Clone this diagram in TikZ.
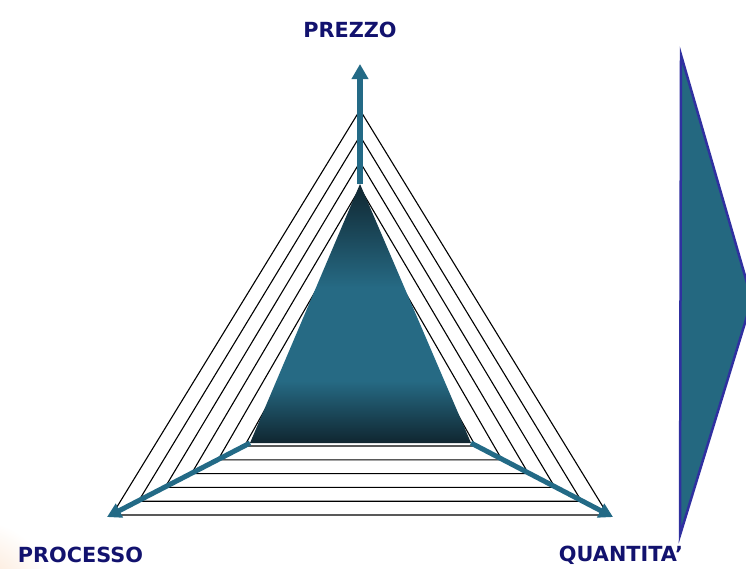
\documentclass[tikz,border=0pt]{standalone}
\usepackage{fontspec}
\setmainfont{DejaVu Sans}
\usetikzlibrary{arrows.meta}
\definecolor{navy}{RGB}{18,18,110}
\definecolor{axiscol}{RGB}{35,106,134}
\definecolor{tealdark}{RGB}{16,38,48}
\definecolor{tealmid}{RGB}{38,106,132}
\definecolor{shapefill}{RGB}{36,104,128}
\definecolor{shapeline}{RGB}{48,48,160}
\definecolor{peach}{RGB}{250,222,198}
\pgfdeclareverticalshading{tealsh}{100bp}{color(0bp)=(tealdark); color(25bp)=(tealdark); color(37bp)=(tealmid); color(55bp)=(tealmid); color(75bp)=(tealdark); color(100bp)=(tealdark)}
\begin{document}
\begin{tikzpicture}[x=1pt,y=-1pt,
  hatch/.style={black,line width=1.1pt,line join=miter},
  axisarrow/.style={axiscol,line width=5pt,-{Triangle[width=15pt,length=14pt]}},
  lbl/.style={font=\bfseries\fontsize{20.8}{24}\selectfont,text=navy,inner sep=0pt}]
\useasboundingbox (0,0) rectangle (746,568);
\clip (0,0) rectangle (746,568);
\fill[white] (0,0) rectangle (746,568);
\shade[inner color=peach,outer color=white] (-25,600) circle (80);
% nested hatch triangles
\foreach \k in {0,...,5}{
  \draw[hatch] (360,{110+26*\k}) -- ({112+26.5*\k},{515-13.8*\k}) -- ({608-26.5*\k},{515-13.8*\k}) -- cycle;
}
% inner shaded triangle
\coordinate (ia) at (360,184);
\coordinate (il) at (250,443);
\coordinate (ir) at (471,443);
\shade[shading=tealsh] (ia) -- (il) -- (ir) -- cycle;
% axes
\coordinate (tp) at (360,64);
\coordinate (tl) at (107,517);
\coordinate (tr) at (613,517);
\draw[axisarrow,line width=6pt,-{Triangle[width=16pt,length=15pt]}] (ia) -- (tp);
\draw[axisarrow] (il) -- (tl);
\draw[axisarrow] (ir) -- (tr);
% right shape
\filldraw[fill=shapefill,draw=shapeline,line width=2.5pt,line join=miter] (681,55) -- (752,300) -- (680,535) -- cycle;
% labels
\node[lbl,anchor=base] (prezzo) at (350,37) {PREZZO};
\node[lbl,anchor=base] (processo) at (80.5,562) {PROCESSO};
\node[lbl,anchor=base] (quantita) at (621,561) {QUANTITA’};
\end{tikzpicture}
\end{document}
